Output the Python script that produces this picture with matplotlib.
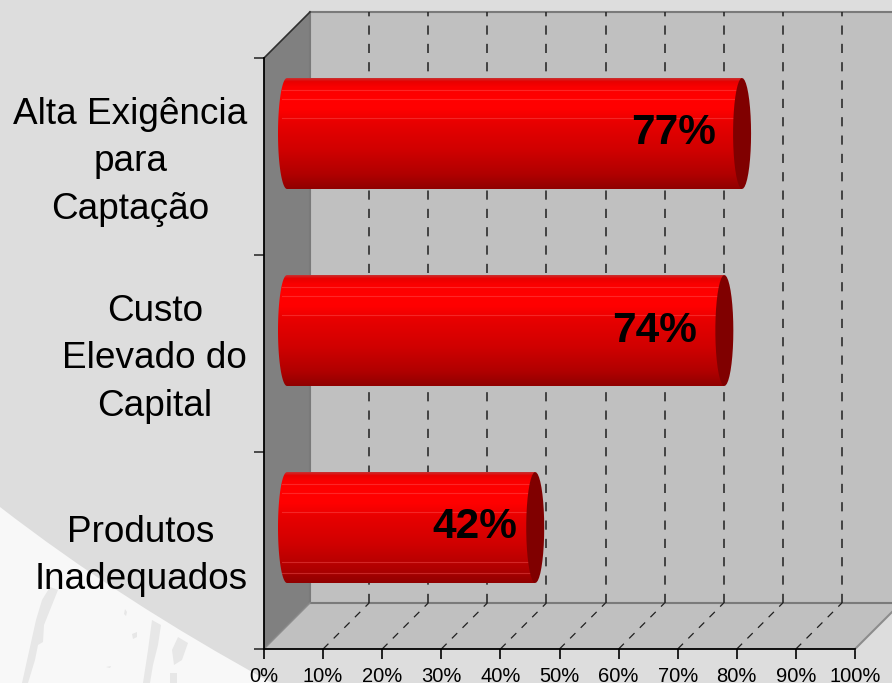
import numpy as np
import matplotlib
matplotlib.use('Agg')
import matplotlib.pyplot as plt
from matplotlib.colors import LinearSegmentedColormap
from matplotlib.patches import Polygon, PathPatch
from matplotlib.path import Path

plt.rcParams['font.family'] = ['Liberation Sans', 'DejaVu Sans']

categories = ['Produtos\nInadequados', 'Custo\nElevado do\nCapital', 'Alta Exigência\npara\nCaptação']
values = [42, 74, 77]
value_labels = ['42%', '74%', '77%']
x_ticks = [0, 10, 20, 30, 40, 50, 60, 70, 80, 90, 100]
x_tick_labels = ['0%', '10%', '20%', '30%', '40%', '50%', '60%', '70%', '80%', '90%', '100%']

W, H = 892, 683
X0, X1, Y0, Y1 = 264.0, 855.0, 649.0, 58.0
XU = (X1 - X0) / 100.0
YU = (Y0 - Y1) / 3.0
DEPTH_X = 46 / XU
DEPTH_Y = 46 / YU
BAR_H = 111 / YU
CAP_W = 9 / XU


def draw_background(fig):
	bg = fig.add_axes([0, 0, 1, 1], zorder=0)
	bg.set_xlim(0, W)
	bg.set_ylim(H, 0)
	bg.axis('off')
	curve = Path([(0, 507), (120, 600), (272, 683), (0, 683), (0, 507)],
		[Path.MOVETO, Path.CURVE3, Path.CURVE3, Path.LINETO, Path.CLOSEPOLY])
	bg.add_patch(PathPatch(curve, facecolor='#f8f8f8', edgecolor='none'))
	scratches = [
		[(22, 683), (36, 620), (42, 600), (50, 587), (58, 590), (50, 610), (44, 625), (43, 642), (38, 645), (35, 660), (28, 683)],
		[(152, 620), (161, 625), (158, 645), (153, 665), (150, 683), (143, 683), (148, 650)],
		[(178, 637), (188, 643), (182, 660), (174, 665), (172, 650)],
		[(170, 673), (177, 673), (177, 683), (170, 683)],
		[(125, 609), (127, 612), (126, 616), (124, 614)],
		[(132, 634), (137, 632), (137, 637), (133, 639)],
		[(106, 667), (111, 666), (110, 668)],
	]
	for s in scratches:
		bg.add_patch(Polygon(s, facecolor='#e7e7e7', edgecolor='none'))


def draw_box(ax):
	ax.add_patch(Polygon([(0, 0), (DEPTH_X, DEPTH_Y), (DEPTH_X, 3 + DEPTH_Y), (0, 3)],
		facecolor='#808080', edgecolor='none', clip_on=False, zorder=1))
	ax.add_patch(Polygon([(DEPTH_X, DEPTH_Y), (100 + DEPTH_X, DEPTH_Y), (100 + DEPTH_X, 3 + DEPTH_Y), (DEPTH_X, 3 + DEPTH_Y)],
		facecolor='#c0c0c0', edgecolor='none', clip_on=False, zorder=1))
	ax.add_patch(Polygon([(0, 0), (100, 0), (100 + DEPTH_X, DEPTH_Y), (DEPTH_X, DEPTH_Y)],
		facecolor='#c0c0c0', edgecolor='none', clip_on=False, zorder=1))

	edge = dict(color='#7a7a7a', lw=1.5, clip_on=False, zorder=2)
	ax.plot([DEPTH_X, 100 + DEPTH_X], [3 + DEPTH_Y, 3 + DEPTH_Y], **edge)
	ax.plot([DEPTH_X, 100 + DEPTH_X], [DEPTH_Y, DEPTH_Y], **edge)
	ax.plot([DEPTH_X, DEPTH_X], [DEPTH_Y, 3 + DEPTH_Y], **edge)
	ax.plot([100, 100 + DEPTH_X], [0, DEPTH_Y], color='#8c8c8c', lw=1.5, clip_on=False, zorder=2)
	ax.plot([0, DEPTH_X], [3, 3 + DEPTH_Y], color='#303030', lw=1.2, clip_on=False, zorder=2)
	ax.plot([0, DEPTH_X], [0, DEPTH_Y], color='#8c8c8c', lw=1, clip_on=False, zorder=2)

	for t in x_ticks[1:]:
		ax.plot([t + DEPTH_X, t + DEPTH_X], [DEPTH_Y, 3 + DEPTH_Y], color='#202020', lw=1.1,
			dashes=(6, 6), clip_on=False, zorder=2)
		if t < 100:
			ax.plot([t, t + DEPTH_X], [0, DEPTH_Y], color='#202020', lw=0.9,
				dashes=(6, 6), clip_on=False, zorder=2)


def ellipse_points(cx, cy, start, stop):
	t = np.linspace(start, stop, 40)
	return np.column_stack([cx + CAP_W * np.cos(t), cy + BAR_H / 2 * np.sin(t)])


def draw_bars(ax):
	stops = [(0.0, '#c83030'), (0.03, '#e80000'), (0.08, '#fa0000'), (0.15, '#ff0000'), (0.28, '#ff0000'),
		(0.4, '#e80000'), (0.65, '#d00000'), (0.87, '#b00000'), (1.0, '#900000')]
	cmap = LinearSegmentedColormap.from_list('bar', stops)
	grad = np.linspace(0, 1, 256).reshape(-1, 1)
	mid_x = DEPTH_X / 2
	mid_y = DEPTH_Y / 2
	shift_px = [60, 70, 69]

	for i, v in enumerate(values):
		cy = i + 0.5 + mid_y
		top = cy + BAR_H / 2
		bottom = cy - BAR_H / 2
		end = v + mid_x

		left_edge = ellipse_points(mid_x, cy, np.pi / 2, 3 * np.pi / 2)
		outline = np.vstack([left_edge, [(end, bottom), (end, top)]])
		body = Polygon(outline, facecolor='none', edgecolor='none', transform=ax.transData)
		ax.add_patch(body)
		im = ax.imshow(grad, cmap=cmap, extent=[mid_x - CAP_W, end, bottom, top], origin='upper',
			aspect='auto', zorder=3, clip_on=True)
		im.set_clip_path(body)

		streaks = [0.108, 0.19, 0.36]
		if i == 0:
			streaks = streaks + [0.81, 0.91]
		for f in streaks:
			y = top - f * BAR_H
			ax.plot([mid_x - CAP_W * 0.6, end], [y, y], color='#ff6060', lw=0.8, alpha=0.4, clip_on=False, zorder=4)

		ax.add_patch(Polygon(ellipse_points(end, cy, 0, 2 * np.pi), facecolor='#800000', edgecolor='none',
			clip_on=False, zorder=5))

		ax.text(end - shift_px[i] / XU, cy, value_labels[i], ha='center', va='center',
			fontsize=30.5, fontweight='bold', color='black', clip_on=False, zorder=6)


def main():
	fig = plt.figure(figsize=(W / 100, H / 100), dpi=100, facecolor='#dddddd')
	draw_background(fig)

	ax = fig.add_axes([X0 / W, (H - Y0) / H, (X1 - X0) / W, (Y0 - Y1) / H], zorder=1)
	ax.patch.set_alpha(0)

	draw_box(ax)
	draw_bars(ax)

	ax.set_xlim(0, 100)
	ax.set_ylim(0, 3)
	ax.set_xticks(x_ticks)
	ax.set_xticklabels(x_tick_labels, fontsize=14.5)
	ax.set_yticks([0, 1, 2, 3])
	ax.set_yticklabels([])
	# labels sit a little above the middle of each band
	ax.set_yticks([0.5 + 5 / YU, 1.5 + 5 / YU, 2.5 + 5 / YU], minor=True)
	ax.set_yticklabels(categories, minor=True, fontsize=26.6, multialignment='center', linespacing=1.47)
	ax.tick_params(axis='y', which='minor', length=0, pad=12)
	ax.tick_params(axis='y', which='major', length=7, width=1.2, color='#303030')
	ax.tick_params(axis='x', length=7, width=1.2, pad=6, color='black')
	for side in ['top', 'right']:
		ax.spines[side].set_visible(False)
	for side in ['bottom', 'left']:
		ax.spines[side].set_linewidth(1.3)
		ax.spines[side].set_zorder(7)

	fig.savefig('out.png', dpi=100, facecolor=fig.get_facecolor())


if __name__ == '__main__':
	main()
